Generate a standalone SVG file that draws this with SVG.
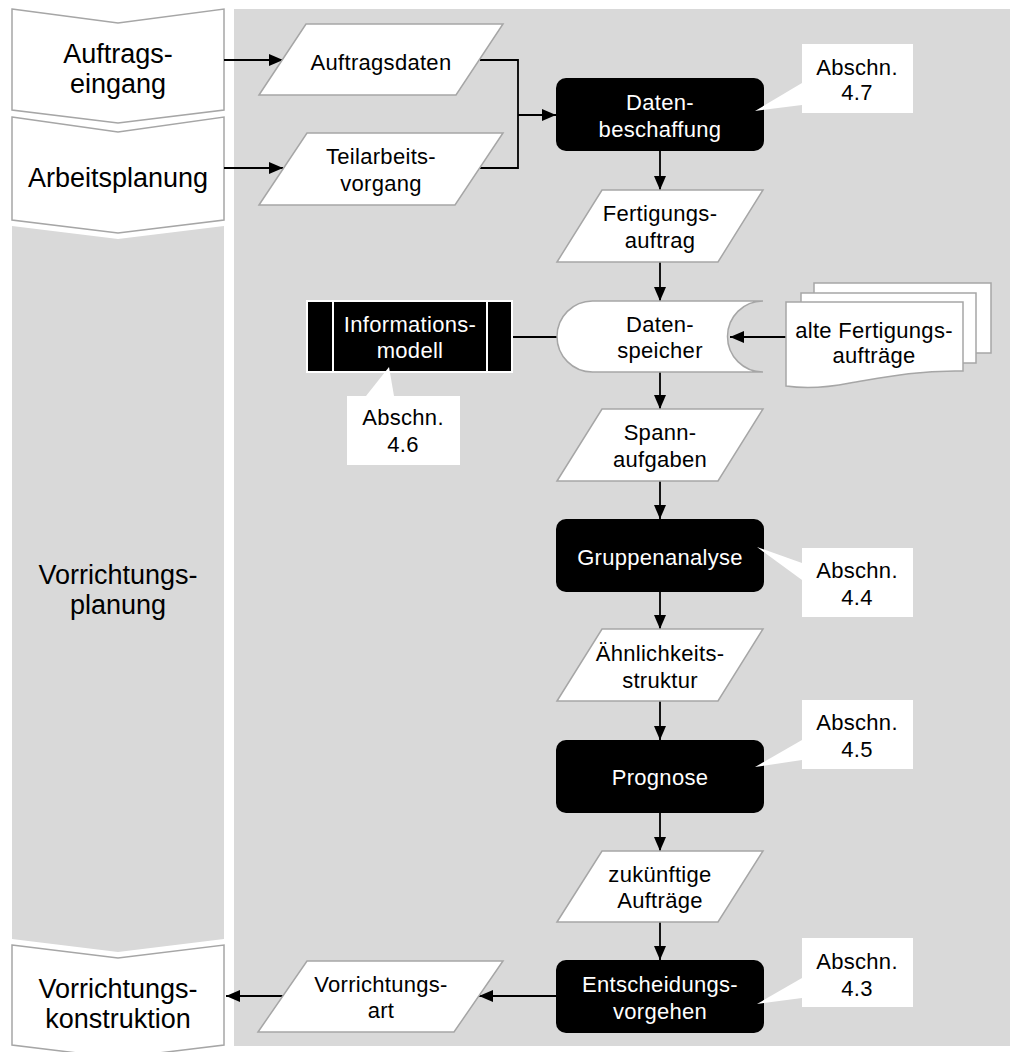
<svg xmlns="http://www.w3.org/2000/svg" width="1013" height="1052" viewBox="0 0 1013 1052">
  <style>
    text { font-family: "Liberation Sans", Arial, sans-serif; text-anchor: middle; }
    .lane { font-size: 27px; fill: #000; }
    .lbl { font-size: 22px; fill: #000; letter-spacing: 0.3px; }
    .inv { font-size: 22px; fill: #fff; letter-spacing: 0.3px; }
    .chev { fill: #fff; stroke: #a6a6a6; stroke-width: 1.5; }
    .data { fill: #fff; stroke: #a6a6a6; stroke-width: 1.5; }
    .proc { fill: #000; }
    .note { fill: #fff; }
    .conn { fill: none; stroke: #000; stroke-width: 1.8; }
  </style>
  <defs>
    <marker id="arrow" viewBox="0 0 14 12" refX="14" refY="6" markerWidth="14" markerHeight="12" markerUnits="userSpaceOnUse" orient="auto">
      <path d="M0,0 L14,6 L0,12 Z" fill="#000"/>
    </marker>
  </defs>

  <!-- working area -->
  <rect x="234" y="9" width="776" height="1037" fill="#d9d9d9"/>

  <!-- process lanes -->
  <g id="lane-auftragseingang">
    <polygon class="chev" points="12,9 118,23 224,9 224,110 118,123 12,110"/>
    <text class="lane" x="118" y="63">Auftrags-</text>
    <text class="lane" x="118" y="93">eingang</text>
  </g>
  <g id="lane-arbeitsplanung">
    <polygon class="chev" points="12,117 118,132 224,117 224,220 118,233 12,220"/>
    <text class="lane" x="118" y="187">Arbeitsplanung</text>
  </g>
  <g id="lane-vorrichtungsplanung">
    <polygon points="12,226 118,239 224,226 224,939 118,952 12,939" fill="#d9d9d9"/>
    <text class="lane" x="118" y="584">Vorrichtungs-</text>
    <text class="lane" x="118" y="614">planung</text>
  </g>
  <g id="lane-vorrichtungskonstruktion">
    <polygon class="chev" points="12,945 118,958 224,945 224,1045 118,1058 12,1045"/>
    <text class="lane" x="118" y="998">Vorrichtungs-</text>
    <text class="lane" x="118" y="1028">konstruktion</text>
  </g>

  <!-- connectors -->
  <g id="connectors">
    <line class="conn" x1="224" y1="60" x2="283" y2="60" marker-end="url(#arrow)"/>
    <line class="conn" x1="224" y1="168" x2="283" y2="168" marker-end="url(#arrow)"/>
    <polyline class="conn" points="480,60 518,60 518,168 480,168"/>
    <line class="conn" x1="518" y1="115" x2="556" y2="115" marker-end="url(#arrow)"/>
    <line class="conn" x1="660" y1="151" x2="660" y2="190" marker-end="url(#arrow)"/>
    <line class="conn" x1="660" y1="262" x2="660" y2="301" marker-end="url(#arrow)"/>
    <line class="conn" x1="512" y1="337" x2="557" y2="337"/>
    <line class="conn" x1="786" y1="337" x2="730" y2="337" marker-end="url(#arrow)"/>
    <line class="conn" x1="660" y1="372" x2="660" y2="409" marker-end="url(#arrow)"/>
    <line class="conn" x1="660" y1="481" x2="660" y2="519" marker-end="url(#arrow)"/>
    <line class="conn" x1="660" y1="592" x2="660" y2="629" marker-end="url(#arrow)"/>
    <line class="conn" x1="660" y1="701" x2="660" y2="740" marker-end="url(#arrow)"/>
    <line class="conn" x1="660" y1="813" x2="660" y2="851" marker-end="url(#arrow)"/>
    <line class="conn" x1="660" y1="922" x2="660" y2="960" marker-end="url(#arrow)"/>
    <line class="conn" x1="556" y1="996" x2="479" y2="996" marker-end="url(#arrow)"/>
    <line class="conn" x1="284" y1="996" x2="226" y2="996" marker-end="url(#arrow)"/>
  </g>

  <!-- inputs -->
  <g id="auftragsdaten">
    <polygon class="data" points="259,95 306,24 503,24 456,95"/>
    <text class="lbl" x="381" y="70">Auftragsdaten</text>
  </g>
  <g id="teilarbeitsvorgang">
    <polygon class="data" points="259,205 307,133 503,133 455,205"/>
    <text class="lbl" x="381" y="164">Teilarbeits-</text>
    <text class="lbl" x="381" y="191">vorgang</text>
  </g>

  <!-- main flow -->
  <g id="datenbeschaffung">
    <rect class="proc" x="556" y="78" width="208" height="73" rx="10"/>
    <text class="inv" x="660" y="110">Daten-</text>
    <text class="inv" x="660" y="137">beschaffung</text>
  </g>
  <g id="note-4-7">
    <polygon class="note" points="802,83 755,111 802,105"/>
    <rect class="note" x="802" y="44" width="111" height="69"/>
    <text class="lbl" x="857" y="75">Abschn.</text>
    <text class="lbl" x="857" y="100">4.7</text>
  </g>

  <g id="fertigungsauftrag">
    <polygon class="data" points="557,262 602,190 763,190 718,262"/>
    <text class="lbl" x="660" y="221">Fertigungs-</text>
    <text class="lbl" x="660" y="248">auftrag</text>
  </g>

  <g id="datenspeicher">
    <path class="data" d="M763,301 L592.5,301 A35.5,35.5 0 0 0 592.5,372 L763,372 A35.5,35.5 0 0 1 763,301 Z"/>
    <text class="lbl" x="660" y="332">Daten-</text>
    <text class="lbl" x="660" y="358">speicher</text>
  </g>

  <g id="informationsmodell">
    <rect x="307" y="301" width="205" height="71" fill="#000" stroke="#fff" stroke-width="2"/>
    <line x1="333" y1="301" x2="333" y2="372" stroke="#fff" stroke-width="2"/>
    <line x1="487" y1="301" x2="487" y2="372" stroke="#fff" stroke-width="2"/>
    <text class="inv" x="410" y="332">Informations-</text>
    <text class="inv" x="410" y="358">modell</text>
  </g>
  <g id="note-4-6">
    <polygon class="note" points="366,396 389,367 394,396"/>
    <rect class="note" x="347" y="396" width="113" height="69"/>
    <text class="lbl" x="403" y="425">Abschn.</text>
    <text class="lbl" x="403" y="452">4.6</text>
  </g>

  <g id="alte-fertigungsauftraege">
    <rect class="data" x="814" y="283" width="177" height="70"/>
    <rect class="data" x="801" y="293" width="175" height="70"/>
    <path class="data" d="M786,302 H963 V371 C915,370 880,378 850,383 C820,389 800,388 786,386 Z"/>
    <text class="lbl" x="874" y="338">alte Fertigungs-</text>
    <text class="lbl" x="874" y="363">aufträge</text>
  </g>

  <g id="spannaufgaben">
    <polygon class="data" points="557,481 602,409 763,409 718,481"/>
    <text class="lbl" x="660" y="440">Spann-</text>
    <text class="lbl" x="660" y="467">aufgaben</text>
  </g>

  <g id="gruppenanalyse">
    <rect class="proc" x="556" y="519" width="208" height="73" rx="10"/>
    <text class="inv" x="660" y="565">Gruppenanalyse</text>
  </g>
  <g id="note-4-4">
    <polygon class="note" points="757,547 802,563 802,580"/>
    <rect class="note" x="802" y="548" width="111" height="69"/>
    <text class="lbl" x="857" y="578">Abschn.</text>
    <text class="lbl" x="857" y="605">4.4</text>
  </g>

  <g id="aehnlichkeitsstruktur">
    <polygon class="data" points="557,701 602,629 763,629 718,701"/>
    <text class="lbl" x="660" y="661">Ähnlichkeits-</text>
    <text class="lbl" x="660" y="688">struktur</text>
  </g>

  <g id="prognose">
    <rect class="proc" x="556" y="740" width="208" height="73" rx="10"/>
    <text class="inv" x="660" y="785">Prognose</text>
  </g>
  <g id="note-4-5">
    <polygon class="note" points="802,740 755,767 802,760"/>
    <rect class="note" x="802" y="700" width="111" height="69"/>
    <text class="lbl" x="857" y="730">Abschn.</text>
    <text class="lbl" x="857" y="757">4.5</text>
  </g>

  <g id="zukuenftige-auftraege">
    <polygon class="data" points="557,922 602,851 763,851 718,922"/>
    <text class="lbl" x="660" y="882">zukünftige</text>
    <text class="lbl" x="660" y="908">Aufträge</text>
  </g>

  <g id="entscheidungsvorgehen">
    <rect class="proc" x="556" y="960" width="208" height="73" rx="10"/>
    <text class="inv" x="660" y="992">Entscheidungs-</text>
    <text class="inv" x="660" y="1019">vorgehen</text>
  </g>
  <g id="note-4-3">
    <polygon class="note" points="802,978 757,1004 802,998"/>
    <rect class="note" x="802" y="938" width="111" height="69"/>
    <text class="lbl" x="857" y="969">Abschn.</text>
    <text class="lbl" x="857" y="996">4.3</text>
  </g>

  <g id="vorrichtungsart">
    <polygon class="data" points="258,1032 307,961 503,961 454,1032"/>
    <text class="lbl" x="381" y="992">Vorrichtungs-</text>
    <text class="lbl" x="381" y="1018">art</text>
  </g>
</svg>
